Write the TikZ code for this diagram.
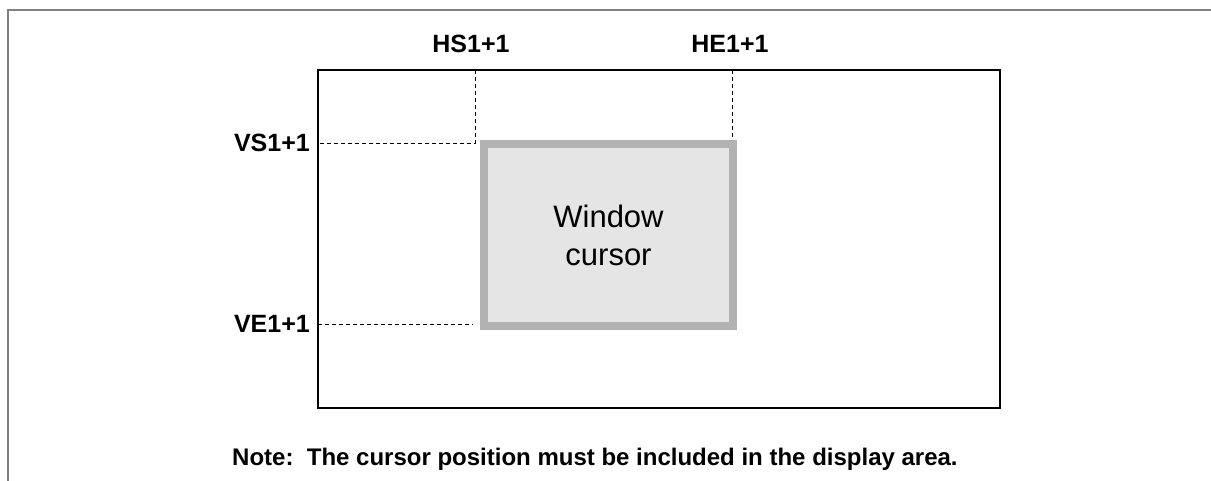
\documentclass[tikz,border=0pt]{standalone}
\usepackage{fontspec}
\setmainfont{Liberation Sans}
\usetikzlibrary{positioning, calc}

\tikzset{
  frameline/.style={draw=black!50, line width=1.5pt},
  screen/.style={draw, line width=1.5pt, inner sep=0pt, outer sep=0pt},
  wincur/.style={draw=black!30, fill=black!10, line width=8pt, inner sep=0pt,
    align=center, font=\fontsize{31}{38}\selectfont},
  reg/.style={font=\fontsize{25}{30}\selectfont\bfseries, inner sep=0pt},
  guide/.style={draw, line width=0.8pt, dash pattern=on 4pt off 3pt}
}

\begin{document}
\begin{tikzpicture}[x=1pt, y=-1pt]
        \useasboundingbox (0,0) rectangle (1211,481);
        \draw[frameline] (8,481) -- (8,10) -- (1211,10);

        \node[screen, minimum width=682pt, minimum height=338pt] (display) at (659,239) {};
        \node[wincur, minimum width=249pt, minimum height=182pt] (win) at (608.5,235) {Window\\cursor};

        \coordinate (hs) at (475,143);
        \coordinate (he) at (732,140);
        \coordinate (ve) at (473,324);

        \node[reg, anchor=base] (hslbl) at (471,53) {HS1+1};
        \node[reg, anchor=base] (helbl) at (730,53) {HE1+1};
        \node[reg, anchor=east] (vslbl) at (310,143) {VS1+1};
        \node[reg, anchor=east] (velbl) at (310,324) {VE1+1};

        \path[guide]
        (display.north -| hs) -- (hs) -- (display.west |- hs)
        (display.north -| he) -- (he)
        (display.west |- ve) -- (ve)
        ;

        \node[reg, font=\fontsize{24}{28}\selectfont\bfseries, anchor=base west] (note) at (232,465)
            {Note:\ \ The cursor position must be included in the display area.};
    \end{tikzpicture}
\end{document}
